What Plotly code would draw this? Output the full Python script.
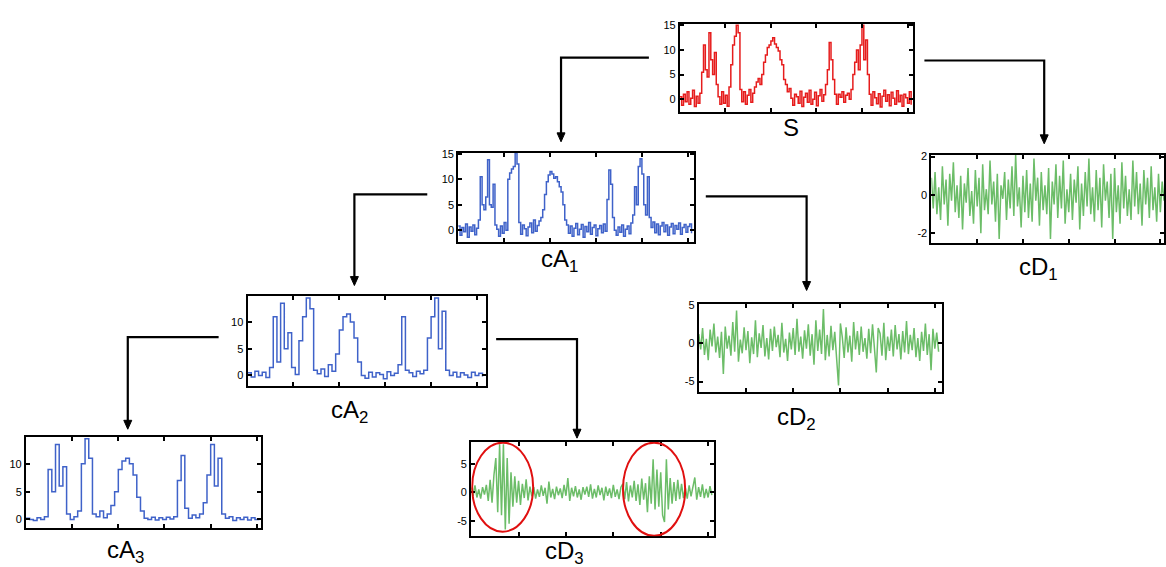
import plotly.graph_objects as go

W, H = 1166, 567

# ---------------- data ----------------
S_values = [
    0.5, -1.2, 1.0, -0.5, 1.5, -1.0, 0.2, 1.8, -1.5, 0.6, -0.8,
    1.2, 5.5, 11.0, 6.0, 4.5, 13.5, 8.0, 5.0, 9.5, 3.0, 0.5,
    -1.0, 1.5, -0.8, 0.8, -1.4, 2.5,
    7.0, 11.0, 12.8, 15.0, 13.5, 2.0,
    -0.5, 1.5, -1.0, 0.8, 2.0, -0.6, 1.2,
    2.5, 3.5, 4.2, 3.0, 5.0, 7.5, 9.0, 10.5, 11.0, 11.8, 12.5, 11.2, 10.5, 9.8, 8.0, 7.0, 4.0, 3.0, 1.5, 2.2,
    0.2, -1.2, 1.0, 0.5, -0.8, 1.6, -1.5, 0.4, 1.2, -0.6, 1.8, -1.0, 0.0, 1.4, -1.3, 0.7, 2.0, -0.4, 0.9, 3.0,
    6.0, 11.5, 8.0, 4.0, 1.0,
    -1.0, 1.0, 0.4, 1.5, -0.6, 0.8, 1.2, 0.0, 2.0,
    5.0, 7.5, 10.0, 6.0, 11.0, 15.0, 8.0, 12.0, 5.0, 1.0,
    -1.2, 1.5, 0.3, -0.9, 1.1, -1.6, 0.6, 1.8, -0.4, 0.9, -1.3, 1.4, 0.2, -1.0, 1.7, -0.5, 0.8, -1.4, 1.0, 0.3, -0.8, 1.5, -1.1,
]

cA1_values = [
    0.8, -1.0, 0.5, -0.3, 1.2, -1.4, 0.6, -0.2, 1.0, -0.9, 0.4,
    2.0, 10.5, 5.0, 4.0, 6.5, 13.8, 5.0, 4.5, 9.0, 1.0,
    0.2, -1.2, 0.8, -0.6, 1.5, 0.0,
    10.0, 11.2, 12.0, 12.5, 15.2, 13.0, 1.5,
    -0.8, 1.0, 0.3, -1.1, 0.6, 1.4, -0.5, 2.0, -0.2, 0.9, 1.8, 2.5,
    4.0, 7.0, 9.5, 10.8, 11.5, 11.0, 10.2, 10.5, 9.5, 8.5, 7.5, 5.0, 2.0,
    1.0, -0.6, 0.8, -1.2, 0.4, 1.3, -0.9, 0.2, 1.1, -1.4, 0.7, -0.3, 1.5, -0.8, 0.5, 1.0, -1.1, 0.3, 0.9, -0.5, 1.2, -0.2,
    6.0, 11.8, 9.0, 2.5,
    0.0, -1.0, 0.6, -0.4, 1.0, -1.2, 0.2, 0.8, -0.7, 1.4, 3.0,
    8.5, 5.0, 12.5, 14.0, 11.0, 5.0, 3.0, 10.5, 2.5,
    0.5, 1.6, -0.5, 1.2, -0.9, 0.8, 1.5, -0.3, 1.0, -1.0, 0.6, 1.3, -0.7, 0.9, 0.2, 1.4, -0.8, 0.5, 1.1, -0.4, 0.7, 1.2, -0.6,
]

cA2_values = [
    0.5, -0.3, 0.8, 0.0, 0.6, -0.4, 1.5,
    11.0, 2.5, 13.5, 5.0, 8.0, 1.5,
    0.2, 6.5,
    11.0, 14.5, 12.5, 1.0,
    0.3, 1.2, -0.2, 2.0, 0.8,
    4.0, 8.5, 11.0, 11.5, 10.0, 7.0, 2.5,
    0.0, -0.5, 0.6, -0.3, 0.5, 0.2, -0.6, 0.7, 0.0, 0.4, 2.0,
    11.0, 1.0,
    0.5, -0.2, 0.8, 0.3, 1.0,
    7.0, 11.0, 14.5, 5.0, 12.0, 1.0,
    0.0, 0.6, -0.3, 0.5, 0.1, -0.4, 0.6, 0.0, 0.4, -0.2,
]

cA3_values = [
    0.2, 0.0, -0.2, 0.3, 0.0, 0.5,
    9.0, 5.0, 13.5, 6.0, 9.5, 1.0,
    0.0, 0.5, 1.5,
    10.0, 14.5, 11.0, 1.0,
    0.5, 1.5, 0.3, 1.0,
    2.5, 5.0, 9.0, 10.5, 11.0, 10.0, 8.0, 4.0, 1.5,
    0.2, 0.0, 0.4, -0.1, 0.3, 0.0, 0.4, 0.1, 0.5,
    7.0, 11.5, 2.0,
    0.2, 0.8, 0.3, 1.0, 3.0,
    8.0, 13.5, 6.0, 11.0, 1.0,
    0.2, 0.5, -0.2, 0.3, 0.0, 0.4, -0.1, 0.3, 0.0, 0.2,
]

cD1_values = [
    0.9, -0.7, 1.2, -1.0, 0.4, -1.3, 1.5, -0.5, 0.8, -1.6, 1.1, -0.3, 1.7, -0.9, 0.5, -1.2,
    1.0, -1.8, 0.6, -0.4, 1.4, -1.1, 0.2, -1.5, 1.3, -0.6, 0.9, -2.0, 1.6, -0.8, 0.3, -1.0,
    1.8, -0.5, 0.7, -1.4, 1.1, -2.3, 0.5, -0.2, 1.2, -1.3, 0.8, -0.7, 1.5, -1.1, 2.1, -0.6,
    0.4, -1.7, 1.0, -0.9, 1.3, -1.2, 0.6, -1.4, 1.9, -0.3, 0.9, -1.6, 1.2, -0.8, 0.5, -1.0,
    1.4, -2.3, 0.7, -0.5, 1.6, -1.2, 1.0, -0.7, 1.8, -1.5, 0.3, -0.9, 1.1, -1.3, 0.8, -0.4,
    1.5, -1.8, 0.6, -1.1, 1.2, -0.6, 1.9, -1.0, 0.4, -1.4, 1.3, -0.8, 0.9, -1.7, 1.6, -0.3,
    0.7, -1.2, 1.1, -2.3, 1.4, -0.9, 0.5, -1.5, 1.7, -0.7, 1.0, -1.1, 0.3, -1.3, 1.8, -0.6,
    1.2, -1.0, 0.6, -1.6, 1.3, -0.5, 0.9, -1.2, 1.5, -0.8, 0.4, -1.4, 1.1, -0.9, 0.7, -0.3,
]

cD2_values = [
    1.2, -0.8, 2.0, -1.5, 0.6, -2.2, 1.8, -0.4, 2.6, -1.2, 0.9, -1.9, 1.5, -4.0, 2.2, -0.7,
    1.0, -1.6, 2.8, -1.1, 4.3, -2.4, 0.5, -1.3, 2.1, -0.9, 1.6, -2.6, 0.8, -1.4, 3.0, -1.8,
    1.3, -0.6, 2.4, -1.7, 0.7, -2.1, 1.9, -1.0, 2.2, -0.5, 1.1, -1.8, 2.7, -1.2, 0.6, -2.3,
    1.4, -0.8, 2.0, -1.5, 3.2, -1.1, 0.9, -2.0, 1.7, -0.7, 2.5, -1.6, 1.2, -2.8, 3.0, -1.0,
    1.8, -1.4, 4.5, -2.2, 1.1, -1.7, 2.3, -0.9, 1.5, -2.5, -5.5, 2.6, 0.8, -1.9, 2.1, -1.2,
    1.0, -2.4, 2.8, -0.8, 1.6, -1.5, 2.2, -1.1, 0.7, -2.0, 1.9, -1.3, 2.5, -0.6, -3.8, 2.0,
    1.3, -1.6, 2.7, -2.2, 0.9, -1.0, 1.8, -1.7, 2.4, -0.8, 1.2, -2.1, 1.6, -1.2, 2.9, -1.4,
    1.1, -0.9, 2.0, -1.8, 0.7, -2.3, 1.5, -1.0, 2.6, -1.5, 1.2, -3.5, 1.9, -0.7, 1.4, -1.1,
]

cD3_values = [
    0.8, -0.6, 1.2, -0.9, 0.5, -1.1, 0.9, -0.4, 1.3, -1.5,
    2.2, -1.8, 3.0, 6.0, -3.5, 8.4, -4.0, 8.4, -6.5, 6.0, -5.5, 3.5,
    -2.5, 2.8, -1.8, 2.0, -2.2, 1.5, -1.0, 2.3, -1.4, 1.0,
    -0.7, 0.9, -1.1, 0.5, -0.8, 1.2, -0.6, 0.8, -2.0, 1.9, -0.9, 0.6, -1.2, 1.0, -0.5, 0.7,
    -1.0, 1.3, -0.6, 2.5, -1.5, 0.8, -0.7, 1.1, -0.9, 0.5, -1.3, 0.9, -0.4, 1.0, -0.8, 1.4,
    -1.1, 0.6, -0.9, 1.2, -0.5, 0.8, -1.4, 1.0, -0.6, 0.7, -1.0, 1.3, -0.8, 0.5, -1.2, 0.9,
    1.5, -1.2, 1.8, -1.6, 1.2, -0.9, 2.0, -1.5, 1.4, -2.2, 2.4, -1.3, 1.6,
    -3.5, 2.8, -2.0, 5.8, -3.0, 4.0, -2.5, 3.5, -4.0, -5.2, 5.8, -3.0, 2.5,
    -2.0, 1.8, -1.5, 2.2, -1.2, 1.5, -1.0,
    0.8, -1.1, 1.2, -0.7, 1.0, 2.6, -1.3, 0.9, -0.8, 1.4, -1.0, 0.6, -0.9, 1.1, -0.5,
]

panel_labels = ["S", "cA<sub>1</sub>", "cD<sub>1</sub>", "cA<sub>2</sub>",
                "cD<sub>2</sub>", "cA<sub>3</sub>", "cD<sub>3</sub>"]

# ---------------- styling / layout ----------------
RED = "#e61c1c"
BLUE = "#3f62c9"
GREEN = "#6cbd68"
FONT = "Liberation Sans, Arial, sans-serif"

panels = [
    dict(v=S_values, step=8, c=RED, shape="hv", box=(681, 915, 19, 108), xr=[0, 1026], dt=200,
         yr=[-2.6, 15.3], yt=[0, 5, 10, 15], lab=(792, 124)),
    dict(v=cA1_values, step=4, c=BLUE, shape="hv", box=(459, 695, 149, 239), xr=[0, 513], dt=100,
         yr=[-2.3, 15.2], yt=[0, 5, 10, 15], lab=(560, 258)),
    dict(v=cD1_values, step=4, c=GREEN, shape="linear", box=(933, 1166, 151, 240), xr=[0, 508], dt=100,
         yr=[-2.5, 2.1], yt=[-2, 0, 2], lab=(1040, 266)),
    dict(v=cA2_values, step=4, c=BLUE, shape="hv", box=(248, 487, 294, 384), xr=[0, 260], dt=50,
         yr=[-1.9, 14.8], yt=[0, 5, 10], lab=(350, 410)),
    dict(v=cD2_values, step=2, c=GREEN, shape="linear", box=(700, 944, 302, 390), xr=[0, 258], dt=50,
         yr=[-6.3, 5.1], yt=[-5, 0, 5], lab=(798, 417)),
    dict(v=cA3_values, step=2, c=BLUE, shape="hv", box=(26, 261, 436, 528), xr=[0, 127], dt=25,
         yr=[-1.6, 14.8], yt=[0, 5, 10], lab=(126, 551)),
    dict(v=cD3_values, step=1, c=GREEN, shape="linear", box=(472, 715, 441, 536), xr=[0, 128], dt=25,
         yr=[-7.7, 8.8], yt=[-5, 0, 5], lab=(565, 552)),
]


def px(x):
    return x / W


def py(y):
    return 1 - y / H


fig = go.Figure()
layout = {}
annotations = []
for k, p in enumerate(panels, start=1):
    n = len(p["v"])
    xs = [i * p["step"] for i in range(n)]
    fig.add_trace(go.Scatter(
        x=xs, y=p["v"], mode="lines",
        line=dict(color=p["c"], width=1.5, shape=p["shape"]),
        xaxis=f"x{k}", yaxis=f"y{k}", showlegend=False, hoverinfo="skip"))
    x0, x1, y0, y1 = p["box"]
    suffix = "" if k == 1 else str(k)
    layout[f"xaxis{suffix}"] = dict(
        domain=[px(x0), min(px(x1), 1.0)], range=p["xr"], anchor=f"y{k}",
        showline=True, linecolor="black", linewidth=2, mirror="ticks",
        ticks="inside", ticklen=4, tickwidth=1.5, tickcolor="black",
        tick0=0, dtick=p["dt"], showticklabels=False,
        showgrid=False, zeroline=False, fixedrange=True)
    layout[f"yaxis{suffix}"] = dict(
        domain=[py(y1), py(y0)], range=p["yr"], anchor=f"x{k}",
        showline=True, linecolor="black", linewidth=2, mirror="ticks",
        ticks="inside", ticklen=4, tickwidth=1.5, tickcolor="black",
        tickvals=p["yt"], ticktext=[str(t) for t in p["yt"]],
        tickfont=dict(family=FONT, size=11, color="black"),
        showgrid=False, zeroline=False, fixedrange=True)
    lx, ly = p["lab"]
    annotations.append(dict(
        x=px(lx), y=py(ly), xref="paper", yref="paper", text=panel_labels[k - 1],
        showarrow=False, xanchor="center", yanchor="middle",
        font=dict(family=FONT, size=24, color="black")))

# connectors (box side -> corner -> arrow down)
connectors = [
    (650, 53, 562, 138),
    (926, 56, 1046, 140),
    (428, 191, 355, 283),
    (707, 193, 808, 288),
    (219, 335, 128, 428),
    (497, 337, 578, 437),
]
shapes = []
for xs_, yh, xc, ytip in connectors:
    shapes.append(dict(
        type="path", xref="paper", yref="paper",
        path=f"M {px(xs_)},{py(yh)} L {px(xc)},{py(yh)} L {px(xc)},{py(ytip - 6)}",
        line=dict(color="black", width=2.2)))
    shapes.append(dict(
        type="path", xref="paper", yref="paper",
        path=(f"M {px(xc - 4)},{py(ytip - 9)} L {px(xc + 4)},{py(ytip - 9)} "
              f"L {px(xc)},{py(ytip)} Z"),
        fillcolor="black", line=dict(color="black", width=1)))

# red ellipses highlighting cD3 bursts
shapes.append(dict(type="circle", xref="x7", yref="y7", x0=0.5, x1=32.7, y0=-6.9, y1=8.7,
                   line=dict(color="#e01010", width=2)))
shapes.append(dict(type="circle", xref="x7", yref="y7", x0=80.1, x1=112.9, y0=-7.6, y1=8.7,
                   line=dict(color="#e01010", width=2)))

fig.update_layout(
    width=W, height=H, margin=dict(l=0, r=0, t=0, b=0),
    paper_bgcolor="white", plot_bgcolor="white",
    annotations=annotations, shapes=shapes, showlegend=False,
    **layout)

fig.write_html("out.html", config={"displayModeBar": False})

# remove the browser's default page margin so the figure sits at the window origin
with open("out.html", "r", encoding="utf-8") as f:
    html = f.read()
html = html.replace("<head>", "<head><style>html,body{margin:0;padding:0;overflow:hidden;}</style>", 1)
with open("out.html", "w", encoding="utf-8") as f:
    f.write(html)
